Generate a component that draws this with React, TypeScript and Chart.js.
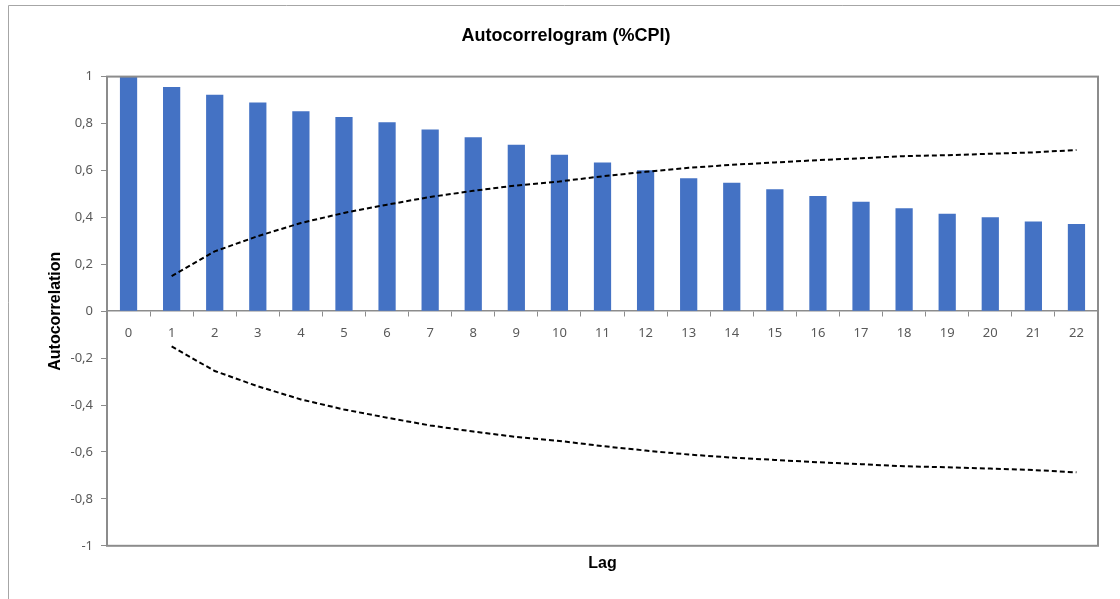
import React, { useEffect, useRef } from "react";
import { Chart, registerables } from "chart.js";

Chart.register(...registerables);

// Lags shown on the category axis
const lags: string[] = [
  "0", "1", "2", "3", "4", "5", "6", "7", "8", "9", "10", "11",
  "12", "13", "14", "15", "16", "17", "18", "19", "20", "21", "22",
];

// Sample autocorrelation of %CPI by lag
const acf: number[] = [
  1.0, 0.956, 0.923, 0.89, 0.852, 0.828, 0.805, 0.775, 0.742, 0.709, 0.667, 0.634,
  0.601, 0.567, 0.547, 0.52, 0.491, 0.467, 0.439, 0.415, 0.4, 0.382, 0.372,
];

// Upper confidence bound (no bound at lag 0)
const upperBound: (number | null)[] = [
  null, 0.15, 0.255, 0.32, 0.376, 0.419, 0.454, 0.487, 0.513, 0.536, 0.553, 0.575,
  0.594, 0.611, 0.624, 0.634, 0.644, 0.652, 0.661, 0.665, 0.671, 0.677, 0.687,
];

// Lower confidence bound (no bound at lag 0)
const lowerBound: (number | null)[] = [
  null, -0.15, -0.255, -0.32, -0.376, -0.419, -0.454, -0.487, -0.513, -0.536, -0.553, -0.575,
  -0.594, -0.611, -0.624, -0.634, -0.644, -0.652, -0.661, -0.665, -0.671, -0.677, -0.687,
];

const AXIS_GRAY = "#8c8c8c";
const TICK_TEXT = "#595959";
const TICK_FONT = { family: "'Noto Sans', 'Open Sans', sans-serif", size: 13 };
const BOLD_FONT = { family: "'Liberation Sans', Arial, sans-serif", size: 16, weight: "bold" as const };

// Comma decimal separator for the value axis
const formatTick = (v: number | string): string => {
  const n = Math.round(Number(v) * 10) / 10;
  return String(n).replace(".", ",");
};

// Frame around the plot area plus the outer chart border
const framePlugin = {
  id: "frames",
  beforeDraw(chart: Chart) {
    const { ctx, width, height } = chart;
    ctx.save();
    ctx.fillStyle = "#ffffff";
    ctx.fillRect(0, 0, width, height);
    ctx.strokeStyle = "#a6a6a6";
    ctx.lineWidth = 1;
    ctx.beginPath();
    ctx.moveTo(8.5, height);
    ctx.lineTo(8.5, 5.5);
    ctx.lineTo(width, 5.5);
    ctx.stroke();
    ctx.restore();
  },
  afterDatasetsDraw(chart: Chart) {
    const { ctx, chartArea } = chart;
    ctx.save();
    ctx.strokeStyle = AXIS_GRAY;
    ctx.lineWidth = 2;
    ctx.strokeRect(
      chartArea.left,
      chartArea.top,
      chartArea.right - chartArea.left,
      chartArea.bottom - chartArea.top
    );
    ctx.restore();
  },
};

export default function App() {
  const canvasRef = useRef<HTMLCanvasElement | null>(null);

  useEffect(() => {
    const canvas = canvasRef.current;
    if (!canvas) return;
    const chart = new Chart(canvas, {
      type: "bar",
      data: {
        labels: lags,
        datasets: [
          {
            type: "line",
            label: "Upper bound",
            data: upperBound,
            borderColor: "#000000",
            borderWidth: 2,
            borderDash: [5, 3],
            pointRadius: 0,
            fill: false,
            tension: 0,
            order: 1,
          },
          {
            type: "line",
            label: "Lower bound",
            data: lowerBound,
            borderColor: "#000000",
            borderWidth: 2,
            borderDash: [5, 3],
            pointRadius: 0,
            fill: false,
            tension: 0,
            order: 1,
          },
          {
            type: "bar",
            label: "Autocorrelation",
            data: acf,
            backgroundColor: "#4472c4",
            barPercentage: 0.4,
            categoryPercentage: 1,
            order: 2,
          },
        ],
      },
      options: {
        responsive: false,
        animation: false,
        layout: { padding: { top: 0, left: 34, right: 22, bottom: 18 } },
        plugins: {
          legend: { display: false },
          tooltip: { enabled: false },
          title: {
            display: true,
            text: "Autocorrelogram (%CPI)",
            color: "#000000",
            font: { family: "'Liberation Sans', Arial, sans-serif", size: 18, weight: "bold" },
            padding: { top: 25, bottom: 30 },
          },
          subtitle: {
            display: true,
            position: "bottom",
            fullSize: false,
            text: "Lag",
            color: "#000000",
            font: BOLD_FONT,
            padding: { top: 8, bottom: 8 },
          },
        },
        scales: {
          x: {
            position: { y: 0 },
            grid: {
              display: true,
              drawOnChartArea: false,
              drawTicks: true,
              tickLength: 5,
              color: AXIS_GRAY,
              offset: true,
            },
            border: { display: true, color: AXIS_GRAY, width: 1.5 },
            ticks: { color: TICK_TEXT, font: TICK_FONT, padding: 9, maxRotation: 0 },
          },
          y: {
            min: -1,
            max: 1,
            afterFit: (scale: any) => {
              scale.width = 73;
            },
            grid: {
              display: true,
              drawOnChartArea: false,
              drawTicks: true,
              tickLength: 6,
              color: AXIS_GRAY,
            },
            border: { display: true, color: AXIS_GRAY, width: 2 },
            ticks: {
              stepSize: 0.2,
              color: TICK_TEXT,
              font: TICK_FONT,
              padding: 8,
              callback: (v: number | string) => formatTick(v),
            },
            title: {
              display: true,
              text: "Autocorrelation",
              color: "#000000",
              font: BOLD_FONT,
              padding: { top: 12, bottom: 0 },
            },
          },
        },
      },
      plugins: [framePlugin],
    });
    return () => chart.destroy();
  }, []);

  return (
    <div style={{ position: "fixed", left: 0, top: 0, width: 1120, height: 599, background: "#ffffff" }}>
      <canvas ref={canvasRef} width={1120} height={599} />
    </div>
  );
}
